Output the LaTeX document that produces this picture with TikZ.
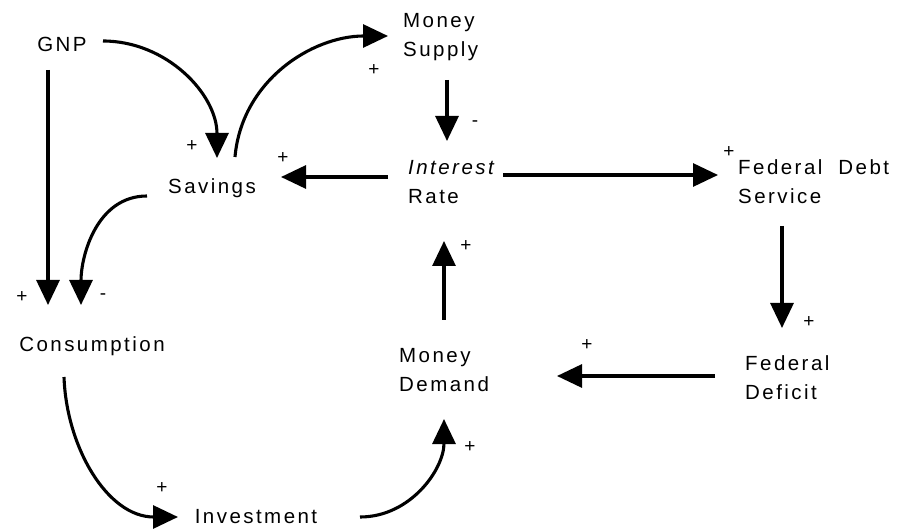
\documentclass[tikz,border=0pt]{standalone}
\usepackage{fontspec}
\setmainfont{Liberation Sans}[LetterSpace=12.0]
\usetikzlibrary{arrows.meta,calc}

\begin{document}
\begin{tikzpicture}[x=1pt,y=-1pt,
    every node/.style = {font=\fontsize{20.5}{29}\selectfont,
      inner sep=0pt, align=left},
    sgn/.style = {font=\fontsize{19}{19}\selectfont},
    link/.style = {line width=3.1pt, -{Triangle[length=25pt,width=23pt]}}]
  \useasboundingbox (0,0) rectangle (913,529);
  % variables
  \node (gnp) at (62,44) {GNP};
  \node[anchor=west] (ms) at (403,37) {Money\\Supply};
  \node (sav) at (212,188) {Savings};
  \node[anchor=west] (ir) at (408,182) {\itshape Interest\\Rate};
  \node[anchor=west] (fds) at (738,182) {Federal\hspace{16pt}Debt\\Service};
  \node (cons) at (92,346) {Consumption};
  \node[anchor=west] (md) at (399,370) {Money\\Demand};
  \node[anchor=west] (fdef) at (745,378) {Federal\\Deficit};
  \node (inv) at (256,517) {Investment};
  % links
  \draw[link] ($(gnp)+(41,-3)$) to[out=0,in=90] ($(sav)+(5,-30)$);
  \draw[link] ($(sav)+(23,-31)$) to[out=85,in=180] ($(ms.west)+(-15,-1)$);
  \draw[link] ($(ms.west)+(44,43)$) -- ($(ir.west)+(39,-41)$);
  \draw[link] ($(ir.west)+(-20,-5)$) -- ($(sav)+(69,-11)$);
  \draw[link] ($(ir.west)+(95,-7)$) -- ($(fds.west)+(-20,-7)$);
  \draw[link] ($(fds.west)+(44,44)$) -- ($(fdef.west)+(37,-50)$);
  \draw[link] ($(fdef.west)+(-30,-2)$) -- ($(md.west)+(158,6)$);
  \draw[link] ($(md.west)+(45,-50)$) -- ($(ir.west)+(36,59)$);
  \draw[link] ($(gnp)+(-14,26)$) -- ($(cons)+(-44,-41)$);
  \draw[link] ($(sav)+(-65,8)$) to[out=180,in=90] ($(cons)+(-11,-41)$);
  \draw[link] ($(cons)+(-28,31)$) to[out=-88,in=180] ($(inv)+(-78,0)$);
  \draw[link] ($(inv)+(104,0)$) to[out=0,in=-90] ($(md.west)+(45,49)$);
  % signs
  \foreach \x/\y/\s [count=\i] in {192/146/+, 374/70/+, 475/124/-, 283/158/+,
      729/152/+, 809/322/+, 587/345/+, 466/246/+, 22/297/+, 103/297/-,
      162/488/+, 470/447/+}
    \node[sgn] (sg\i) at (\x,\y) {\s};
\end{tikzpicture}
\end{document}
